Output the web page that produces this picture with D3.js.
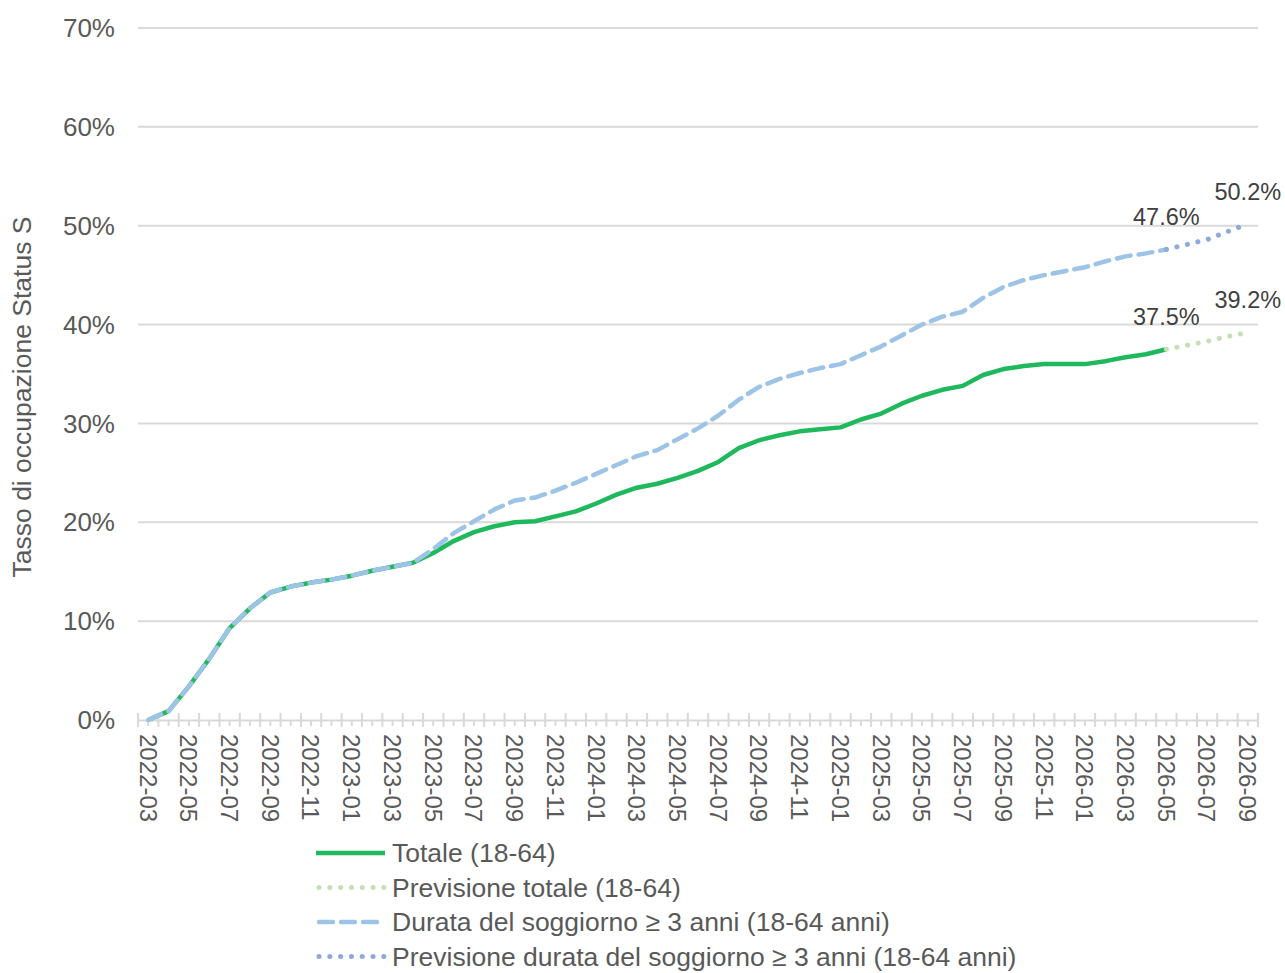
<!DOCTYPE html>
<html>
<head>
<meta charset="utf-8">
<script src="https://cdn.jsdelivr.net/npm/d3@7/dist/d3.min.js"></script>
<style>
  body { margin: 0; background: #fff; }
  svg text { font-family: "Liberation Sans", Arial, sans-serif; }
</style>
</head>
<body>
<svg class="chart" width="1285" height="973"></svg>
<script>
// months on the category axis
var months = [
    '2022-03', '2022-04', '2022-05', '2022-06', '2022-07', '2022-08', '2022-09', '2022-10', '2022-11', '2022-12',
    '2023-01', '2023-02', '2023-03', '2023-04', '2023-05', '2023-06', '2023-07', '2023-08', '2023-09', '2023-10',
    '2023-11', '2023-12', '2024-01', '2024-02', '2024-03', '2024-04', '2024-05', '2024-06', '2024-07', '2024-08',
    '2024-09', '2024-10', '2024-11', '2024-12', '2025-01', '2025-02', '2025-03', '2025-04', '2025-05', '2025-06',
    '2025-07', '2025-08', '2025-09', '2025-10', '2025-11', '2025-12', '2026-01', '2026-02', '2026-03', '2026-04',
    '2026-05', '2026-06', '2026-07', '2026-08', '2026-09'
];

// observed values 2022-03 .. 2026-05 (%)
var totale = [
    0, 0.9, 3.4, 6.2, 9.3, 11.3, 12.9, 13.5, 13.9, 14.2,
    14.6, 15.1, 15.5, 15.9, 16.9, 18.1, 19.0, 19.6, 20.0, 20.1,
    20.6, 21.1, 21.9, 22.8, 23.5, 23.9, 24.5, 25.2, 26.1, 27.5,
    28.3, 28.8, 29.2, 29.4, 29.6, 30.4, 31.0, 32.0, 32.8, 33.4,
    33.8, 34.9, 35.5, 35.8, 36.0, 36.0, 36.0, 36.3, 36.7, 37.0,
    37.5
];
var durata = [
    0, 0.9, 3.4, 6.2, 9.3, 11.3, 12.9, 13.5, 13.9, 14.2,
    14.6, 15.1, 15.5, 15.9, 17.3, 18.9, 20.1, 21.3, 22.2, 22.5,
    23.2, 24.0, 24.9, 25.8, 26.7, 27.3, 28.4, 29.5, 30.8, 32.4,
    33.7, 34.5, 35.1, 35.6, 36.0, 36.9, 37.8, 38.9, 40.0, 40.8,
    41.3, 42.7, 43.8, 44.5, 45.0, 45.4, 45.8, 46.4, 46.9, 47.2,
    47.6
];

// forecasts 2026-05 .. 2026-09 (%)
var forecastMonths = ['2026-05', '2026-06', '2026-07', '2026-08', '2026-09'];
var previsioneTotale = [37.5, 37.9, 38.3, 38.8, 39.2];
var previsioneDurata = [47.6, 48.1, 48.6, 49.4, 50.2];

var yTicks = [0, 10, 20, 30, 40, 50, 60, 70];

var seriesNames = [
    'Totale (18-64)',
    'Previsione totale (18-64)',
    'Durata del soggiorno \u2265 3 anni (18-64 anni)',
    'Previsione durata del soggiorno \u2265 3 anni (18-64 anni)'
];


function plot(options) {
    var svg = d3.select('.chart');
    var left = options.left, right = options.right;
    var top = options.top, bottom = options.bottom;

    var x = d3.scaleBand().domain(months).range([left, right]).padding(0);
    var y = d3.scaleLinear().domain([0, 70]).range([bottom, top]);
    var cx = function (m) { return x(m) + x.bandwidth() / 2; };

    // grid lines
    svg.append('g').selectAll('line')
        .data(yTicks.slice(1))
        .enter().append('line')
        .attr('x1', left).attr('x2', right)
        .attr('y1', function (d) { return y(d); })
        .attr('y2', function (d) { return y(d); })
        .style('stroke', '#d9d9d9')
        .style('stroke-width', 2);

    // y labels
    svg.append('g').selectAll('text')
        .data(yTicks)
        .enter().append('text')
        .attr('x', left - 23)
        .attr('y', function (d) { return y(d); })
        .attr('dy', '0.35em')
        .attr('text-anchor', 'end')
        .style('font-size', '26px')
        .style('fill', '#595959')
        .text(function (d) { return d + '%'; });

    // y title
    svg.append('text')
        .attr('transform', 'translate(31,397) rotate(-90)')
        .attr('text-anchor', 'middle')
        .style('font-size', '26.5px')
        .style('fill', '#595959')
        .text('Tasso di occupazione Status S');

    // x axis: line, minor ticks at centres, labels every 2 months
    var xAxis = d3.axisBottom(x)
        .tickSize(6)
        .tickSizeOuter(0)
        .tickFormat(function (d, i) { return i % 2 === 0 ? d : ''; });
    var gx = svg.append('g')
        .attr('transform', 'translate(0,' + bottom + ')')
        .call(xAxis);
    gx.select('.domain').style('stroke', '#d9d9d9').style('stroke-width', 2);
    gx.selectAll('.tick line').style('stroke', '#d9d9d9').style('stroke-width', 2);
    gx.selectAll('.tick text')
        .attr('transform', 'rotate(90)')
        .attr('x', 14)
        .attr('y', 0)
        .attr('dy', '0.36em')
        .attr('text-anchor', 'start')
        .style('font-size', '24px')
        .style('font-family', '"Liberation Sans", Arial, sans-serif')
        .style('fill', '#595959');

    // major ticks at band boundaries
    var bounds = months.map(function (m) { return x(m); }).concat([right]);
    svg.append('g').selectAll('line')
        .data(bounds)
        .enter().append('line')
        .attr('x1', function (d) { return d; })
        .attr('x2', function (d) { return d; })
        .attr('y1', bottom - 7).attr('y2', bottom + 7)
        .style('stroke', '#d9d9d9')
        .style('stroke-width', 2);

    var line = d3.line()
        .x(function (d) { return cx(d.m); })
        .y(function (d) { return y(d.v); });
    function zip(ms, vs) {
        return vs.map(function (v, i) { return { m: ms[i], v: v }; });
    }

    var styles = [
        { color: '#20b85c', width: 4.5, dash: null, cap: 'butt' },
        { color: '#c5e0b4', width: 5, dash: '0.1 10.7', cap: 'round' },
        { color: '#9dc3e6', width: 4.5, dash: '14 8', cap: 'round' },
        { color: '#8eaadb', width: 5, dash: '0.1 10.7', cap: 'round' }
    ];
    var lines = [
        zip(months, totale),
        zip(forecastMonths, previsioneTotale),
        zip(months, durata),
        zip(forecastMonths, previsioneDurata)
    ];

    lines.forEach(function (data, i) {
        var s = styles[i];
        svg.append('path')
            .datum(data)
            .attr('d', line)
            .style('fill', 'none')
            .style('stroke', s.color)
            .style('stroke-width', s.width)
            .style('stroke-linecap', s.cap)
            .style('stroke-linejoin', 'round')
            .style('stroke-dasharray', s.dash);
    });

    // data labels
    var labelled = [
        { m: '2026-05', v: totale[totale.length - 1] },
        { m: '2026-05', v: durata[durata.length - 1] },
        { m: '2026-09', v: previsioneTotale[previsioneTotale.length - 1] },
        { m: '2026-09', v: previsioneDurata[previsioneDurata.length - 1] }
    ];
    svg.append('g').selectAll('text')
        .data(labelled)
        .enter().append('text')
        .attr('x', function (d) { return cx(d.m); })
        .attr('y', function (d) { return y(d.v) - 24; })
        .attr('text-anchor', 'middle')
        .style('font-size', '23.5px')
        .style('fill', '#404040')
        .text(function (d) { return d.v.toFixed(1) + '%'; });

    // legend
    var legend = svg.append('g').selectAll('g')
        .data(seriesNames)
        .enter().append('g')
        .attr('transform', function (d, i) { return 'translate(316,' + (853 + i * 34.5) + ')'; });
    legend.append('line')
        .attr('x1', function (d, i) { return styles[i].cap === 'round' ? 3 : 0; })
        .attr('x2', 69)
        .attr('y1', 0).attr('y2', 0)
        .style('stroke', function (d, i) { return styles[i].color; })
        .style('stroke-width', function (d, i) { return styles[i].width; })
        .style('stroke-linecap', function (d, i) { return styles[i].cap; })
        .style('stroke-dasharray', function (d, i) { return styles[i].dash; });
    legend.append('text')
        .attr('x', 76)
        .attr('dy', '0.35em')
        .style('font-size', '26.5px')
        .style('fill', '#595959')
        .text(String);
}


plot({
    left: 138,
    right: 1258,
    top: 28,
    bottom: 720
});
</script>
</body>
</html>
